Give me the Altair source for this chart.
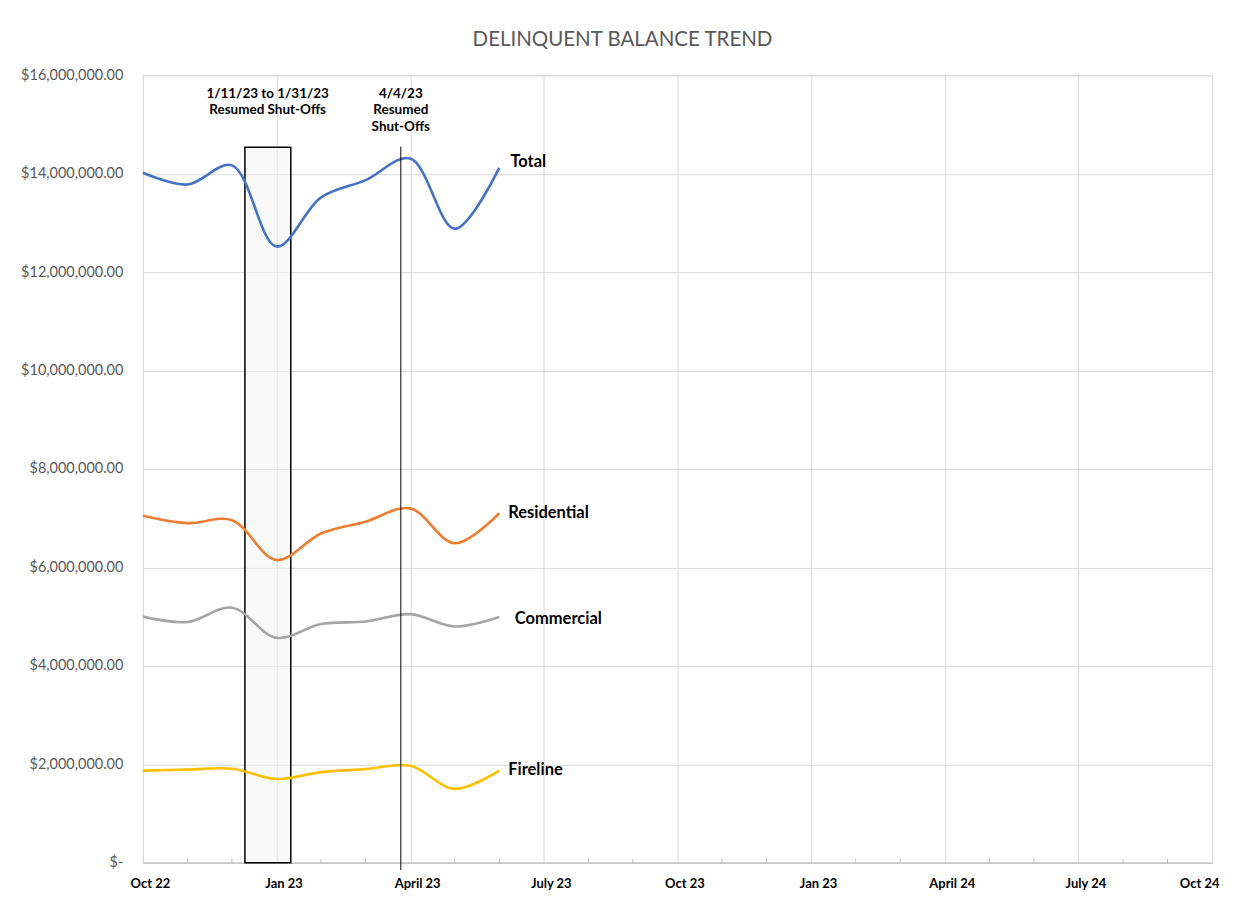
import altair as alt
import pandas as pd

# ---- data ----
month_idx = [0, 1, 2, 3, 4, 5, 6, 7, 8]  # Oct 22 .. Jun 23
total = [14020000, 13780000, 14170000, 12520000, 13520000, 13870000, 14310000, 12880000, 14120000]
residential = [7050000, 6900000, 6960000, 6150000, 6690000, 6930000, 7200000, 6490000, 7100000]
commercial = [5000000, 4890000, 5180000, 4570000, 4850000, 4900000, 5050000, 4800000, 4990000]
fireline = [1870000, 1890000, 1910000, 1700000, 1840000, 1900000, 1970000, 1500000, 1870000]

series_names = ["Total", "Residential", "Commercial", "Fireline"]
series_colors = ["#4472C4", "#ED7D31", "#A5A5A5", "#FFC000"]

tick_labels = ["Oct 22", "Jan 23", "April 23", "July 23", "Oct 23", "Jan 23", "April 24", "July 24", "Oct  24"]
tick_values = [0, 3, 6, 9, 12, 15, 18, 21, 24]
minor_ticks = [m for m in range(1, 24) if m % 3 != 0]

# series end labels
label_x = [8.25, 8.2, 8.35, 8.2]
label_y = [14230000, 7110000, 4950000, 1890000]

# annotations
shade_x1, shade_x2, shade_top = 2.29, 3.32, 14540000
april_x, april_top, april_bottom = 5.79, 14550000, -150000
ann_x = [2.8, 2.8, 5.79, 5.79, 5.79]
ann_y = [15630000, 15290000, 15630000, 15290000, 14940000]
ann_text = ["1/11/23 to 1/31/23", "Resumed Shut-Offs", "4/4/23", "Resumed", "Shut-Offs"]

# ---- tables ----
rows = []
for name, vals in zip(series_names, [total, residential, commercial, fireline]):
    for m, v in zip(month_idx, vals):
        rows.append({"month": m, "value": v, "series": name})
df = pd.DataFrame(rows)

xscale = alt.Scale(domain=[0, 24], nice=False, zero=False)
yscale = alt.Scale(domain=[0, 16000000], nice=False)

label_expr = "[" + ",".join(f"'{t}'" for t in tick_labels) + "][round(datum.value/3)]"

x_axis = alt.Axis(values=tick_values, labelExpr=label_expr, title=None, grid=True,
                  gridColor="#d9d9d9", domainColor="#bfbfbf", domainWidth=1.2, ticks=False,
                  labelFont="Lato", labelFontSize=13, labelFontWeight="bold", labelColor="#000000",
                  labelPadding=15, labelOffset=7, labelFlush=False, labelBound=False, labelOverlap=False,
                  labelAlign={"condition": {"test": "datum.value == 24", "value": "right"}, "value": "center"})
y_axis = alt.Axis(values=list(range(0, 16000001, 2000000)),
                  labelExpr="datum.value == 0 ? '$-' : '$' + format(datum.value, ',.2f')",
                  title=None, grid=True, gridColor="#d9d9d9", domain=False, ticks=False,
                  labelFont="Lato", labelFontSize=14.5, labelColor="#595959", labelPadding=20)

base_x = alt.X("month:Q", scale=xscale, axis=x_axis)
base_y = alt.Y("value:Q", scale=yscale, axis=y_axis)

shade = alt.Chart(pd.DataFrame({"x1": [shade_x1], "x2": [shade_x2], "y1": [0], "y2": [shade_top]})).mark_rect(
    fill="#f4f4f4", fillOpacity=0.5, stroke="#000000", strokeWidth=1.5
).encode(
    x=alt.X("x1:Q", scale=xscale, axis=x_axis), x2="x2:Q",
    y=alt.Y("y1:Q", scale=yscale, axis=y_axis), y2="y2:Q"
)

lines = alt.Chart(df).mark_line(interpolate="catmull-rom", strokeWidth=2.6).encode(
    x=base_x, y=base_y,
    color=alt.Color("series:N", scale=alt.Scale(domain=series_names, range=series_colors), legend=None),
    detail="series:N"
)

april = alt.Chart(pd.DataFrame({"x": [april_x], "y1": [april_bottom], "y2": [april_top]})).mark_rule(
    color="#000000", strokeWidth=1, clip=False
).encode(
    x=alt.X("x:Q", scale=xscale), y=alt.Y("y1:Q", scale=yscale), y2="y2:Q"
)

minor = alt.Chart(pd.DataFrame({"m": minor_ticks})).mark_rule(color="#bfbfbf", strokeWidth=1).encode(
    x=alt.X("m:Q", scale=xscale), y=alt.value(788), y2=alt.value(784)
)

ann = alt.Chart(pd.DataFrame({"x": ann_x, "y": ann_y, "t": ann_text})).mark_text(
    font="Lato", fontSize=13.5, fontWeight="bold", color="#000000", align="center", baseline="middle"
).encode(x=alt.X("x:Q", scale=xscale), y=alt.Y("y:Q", scale=yscale), text="t:N")

labels = alt.Chart(pd.DataFrame({"x": label_x, "y": label_y, "t": series_names})).mark_text(
    font="Lato", fontSize=16.5, fontWeight="bold", color="#000000", align="left", baseline="middle"
).encode(x=alt.X("x:Q", scale=xscale), y=alt.Y("y:Q", scale=yscale), text="t:N")

chart = alt.layer(shade, lines, april, minor, ann, labels).properties(
    width=1070, height=788,
    title=alt.Title("DELINQUENT BALANCE TREND", font="Lato", fontSize=20.5, fontWeight="normal",
                    color="#595959", anchor="middle", dx=-55, offset=1, baseline="alphabetic"),
    autosize=alt.AutoSizeParams(type="none"),
    padding={"left": 135, "top": 67, "right": 20, "bottom": 27},
).configure_view(stroke=None).configure(background="#ffffff")

chart.save("out.html", embed_options={"renderer": "svg", "actions": False})
